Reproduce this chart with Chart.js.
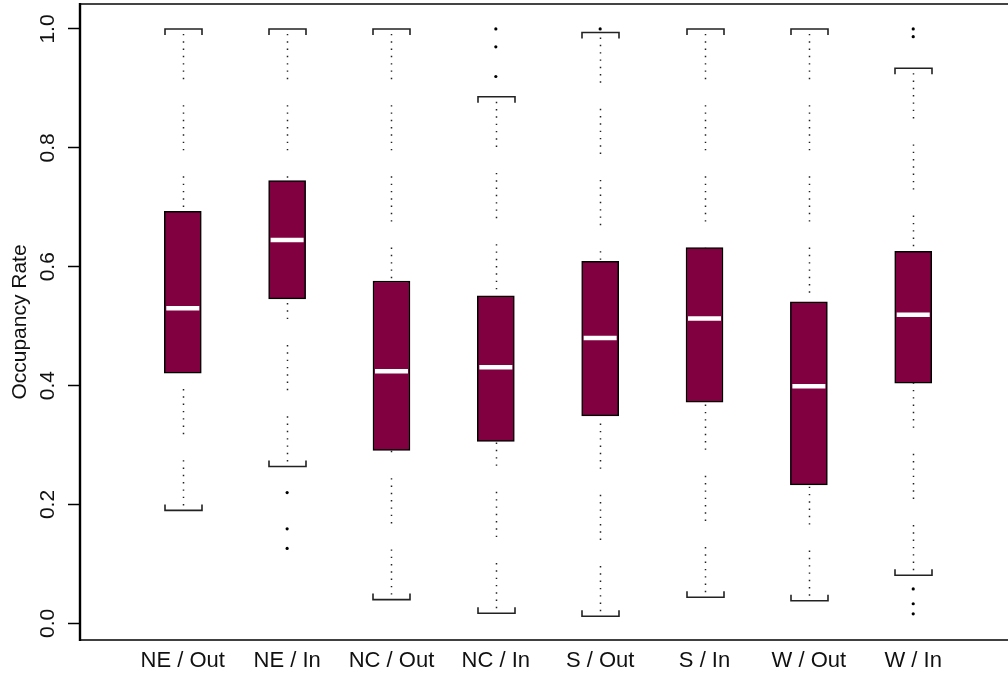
<!DOCTYPE html>
<html>
<head>
<meta charset="utf-8">
<script src="https://cdn.jsdelivr.net/npm/chart.js@4.4.1/dist/chart.umd.min.js"></script>
<style>
	html, body { margin: 0; padding: 0; background: #fff; overflow: hidden; }
	#wrap { width: 1020px; height: 678px; }
</style>
</head>
<body>
<div id="wrap"><canvas id="chart-occupancy" width="1020" height="678"></canvas></div>
<script>
// Data
const categories = ["NE / Out", "NE / In", "NC / Out", "NC / In", "S / Out", "S / In", "W / Out", "W / In"];
const q1 = [0.421, 0.546, 0.291, 0.306, 0.349, 0.372, 0.233, 0.404];
const median = [0.530, 0.645, 0.424, 0.431, 0.480, 0.513, 0.399, 0.519];
const q3 = [0.693, 0.745, 0.576, 0.551, 0.609, 0.632, 0.541, 0.626];
const whiskerLow = [0.190, 0.264, 0.040, 0.017, 0.012, 0.044, 0.038, 0.081];
const whiskerHigh = [1.0, 1.0, 1.0, 0.886, 0.994, 1.0, 1.0, 0.934];
const outliers = [[], [0.220, 0.159, 0.126], [], [1.0, 0.970, 0.920], [1.0], [], [], [1.0, 0.987, 0.058, 0.033, 0.016]];
const yTicks = [0, 0.2, 0.4, 0.6, 0.8, 1.0];

const FONT = "'Liberation Sans', Arial, sans-serif";
const TEXT = "#111";

//---------------------------------------------------------
// Box plot extras: frame, whiskers, medians, y labels
//---------------------------------------------------------
const boxExtras = {
	id: "boxExtras",
	beforeDatasetsDraw(chart) {
		const { ctx, chartArea: a } = chart;
		ctx.save();
		// top + right
		ctx.strokeStyle = "#444";
		ctx.lineWidth = 2;
		ctx.beginPath();
		ctx.moveTo(a.left, a.top);
		ctx.lineTo(a.right, a.top);
		ctx.lineTo(a.right, a.bottom);
		ctx.stroke();
		// bottom
		ctx.strokeStyle = "#000";
		ctx.lineWidth = 1.6;
		ctx.beginPath();
		ctx.moveTo(a.left, a.bottom);
		ctx.lineTo(a.right, a.bottom);
		ctx.stroke();
		// left
		ctx.lineWidth = 2.4;
		ctx.beginPath();
		ctx.moveTo(a.left, a.top - 1);
		ctx.lineTo(a.left, a.bottom + 1);
		ctx.stroke();

		// whiskers
		const x = chart.scales.x;
		const y = chart.scales.y;
		const half = 18.5;
		const dash = [];
		for (let k = 0; k < 6; k++) dash.push(1.4, 5.9);
		dash.push(1.4, 26);

		categories.forEach((c, i) => {
			const px = Math.round(x.getPixelForValue(i + 1)) + 0.5;
			const hi = y.getPixelForValue(whiskerHigh[i]);
			const lo = y.getPixelForValue(whiskerLow[i]);
			const top = y.getPixelForValue(q3[i]);
			const bot = y.getPixelForValue(q1[i]);

			ctx.strokeStyle = "#222";
			ctx.lineWidth = 1.5;
			ctx.setLineDash(dash);
			ctx.beginPath();
			ctx.moveTo(px, hi + 5);
			ctx.lineTo(px, top);
			ctx.stroke();
			ctx.beginPath();
			ctx.moveTo(px, lo - 5);
			ctx.lineTo(px, bot);
			ctx.stroke();
			ctx.setLineDash([]);

			// caps
			ctx.strokeStyle = "#222";
			ctx.lineWidth = 1.6;
			ctx.beginPath();
			ctx.moveTo(px - half, hi + 6);
			ctx.lineTo(px - half, hi);
			ctx.lineTo(px + half, hi);
			ctx.lineTo(px + half, hi + 6);
			ctx.stroke();
			ctx.beginPath();
			ctx.moveTo(px - half, lo - 6);
			ctx.lineTo(px - half, lo);
			ctx.lineTo(px + half, lo);
			ctx.lineTo(px + half, lo - 6);
			ctx.stroke();
		});
		ctx.restore();
	},
	afterDatasetsDraw(chart) {
		const { ctx } = chart;
		const x = chart.scales.x;
		const y = chart.scales.y;
		ctx.save();
		// medians
		ctx.strokeStyle = "#fff";
		ctx.lineWidth = 4.5;
		median.forEach((m, i) => {
			const px = x.getPixelForValue(i + 1);
			const py = y.getPixelForValue(m);
			ctx.beginPath();
			ctx.moveTo(px - 16.5, py);
			ctx.lineTo(px + 16.5, py);
			ctx.stroke();
		});
		ctx.restore();
	},
	afterDraw(chart) {
		const { ctx } = chart;
		const y = chart.scales.y;
		ctx.save();
		ctx.fillStyle = TEXT;
		ctx.font = "21px " + FONT;
		ctx.textAlign = "center";
		ctx.textBaseline = "middle";
		yTicks.forEach((v) => {
			ctx.save();
			ctx.translate(48, y.getPixelForValue(v));
			ctx.rotate(-Math.PI / 2);
			ctx.fillText(v.toFixed(1), 0, 0);
			ctx.restore();
		});
		ctx.restore();
	},
};

const CHART_DATA = {
	datasets: [
		{
			type: "bar",
			label: "IQR",
			data: categories.map((c, i) => ({ x: i + 1, y: [q1[i], q3[i]] })),
			backgroundColor: "#800040",
			borderColor: "#000",
			borderWidth: 1.5,
			borderSkipped: false,
			barThickness: 37,
			order: 2,
		},
		{
			type: "scatter",
			label: "Outliers",
			data: outliers.flatMap((arr, i) => arr.map((v) => ({ x: i + 1, y: v }))),
			pointRadius: 1.6,
			pointBackgroundColor: "#000",
			pointBorderWidth: 0,
			order: 1,
		},
	],
};

const CHART_CONFIG = {
	type: "bar",
	data: CHART_DATA,
	options: {
		responsive: false,
		animation: false,
		layout: {
			padding: { left: 0, right: 3, top: 4, bottom: 0 },
		},
		scales: {
			x: {
				type: "linear",
				offset: false,
				min: 0.015,
				max: 8.985,
				border: { display: false },
				grid: { display: false, drawTicks: false, offset: false },
				afterBuildTicks: (scale) => {
					scale.ticks = categories.map((c, i) => ({ value: i + 1 }));
				},
				afterFit: (scale) => {
					scale.height = 38;
				},
				ticks: {
					autoSkip: false,
					maxRotation: 0,
					padding: 8,
					color: TEXT,
					font: { family: FONT, size: 22 },
					callback: (v) => categories[v - 1],
				},
			},
			y: {
				min: -0.028,
				max: 1.042,
				border: { display: false },
				grid: {
					drawOnChartArea: false,
					tickLength: 12,
					tickColor: "#000",
					tickWidth: 1.5,
				},
				afterBuildTicks: (scale) => {
					scale.ticks = yTicks.map((v) => ({ value: v }));
				},
				afterFit: (scale) => {
					scale.width = 80;
				},
				ticks: { display: false },
				title: {
					display: true,
					text: "Occupancy Rate",
					color: TEXT,
					font: { family: FONT, size: 21 },
					padding: { top: 8, bottom: 0 },
				},
			},
		},
		plugins: {
			legend: { display: false },
			tooltip: { enabled: false },
		},
	},
	plugins: [boxExtras],
};

new Chart(document.getElementById("chart-occupancy"), CHART_CONFIG);
</script>
</body>
</html>
